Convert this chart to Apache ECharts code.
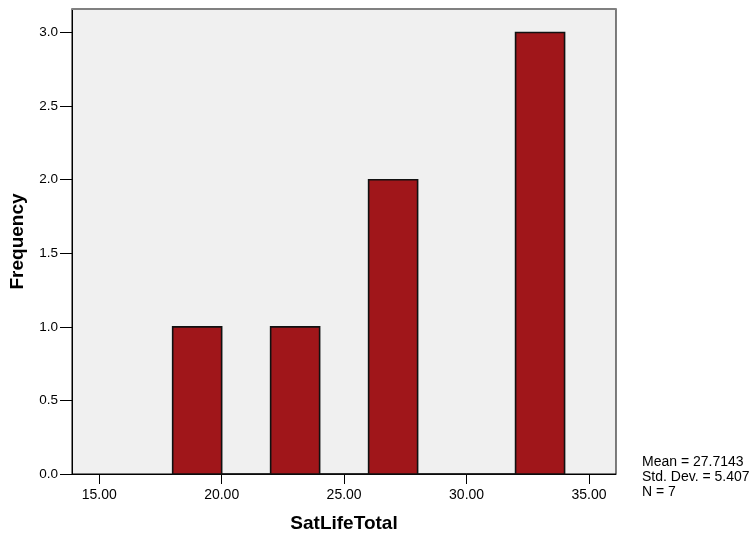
<!DOCTYPE html>
<html>
<head>
<meta charset="utf-8">
<script src="https://cdn.jsdelivr.net/npm/echarts@6/dist/echarts.min.js"></script>
<style>
html,body{margin:0;padding:0;background:#fff;}
#c{width:755px;height:539px;}
</style>
</head>
<body>
<div id="c"></div>
<script>
// ---- data ----
var binLower = [18, 20, 22, 24, 26, 28, 30, 32];
var binUpper = [20, 22, 24, 26, 28, 30, 32, 34];
var counts   = [1, 0, 1, 0, 2, 0, 0, 3];
var xTicks = [15, 20, 25, 30, 35];
var yTicks = [0, 0.5, 1.0, 1.5, 2.0, 2.5, 3.0];
var xRange = [13.89, 36.1];
var yRange = [0, 3.16];
var xTitle = 'SatLifeTotal';
var yTitle = 'Frequency';
var statsLines = ['Mean = 27.7143', 'Std. Dev. = 5.407', 'N = 7'];

var histData = binLower.map(function (lo, i) { return [lo, binUpper[i], counts[i]]; });

var FONT = '"Liberation Sans", Arial, sans-serif';
var chart = echarts.init(document.getElementById('c'), null, {renderer: 'canvas'});
chart.setOption({
  animation: false,
  backgroundColor: '#ffffff',
  grid: {
    left: 72, right: 139, top: 9, bottom: 65,
    show: true, backgroundColor: '#f0f0f0', borderColor: '#000', borderWidth: 1
  },
  xAxis: [{
    type: 'value', min: xRange[0], max: xRange[1],
    name: xTitle, nameLocation: 'middle', nameGap: 40,
    nameTextStyle: {fontFamily: FONT, fontSize: 19, fontWeight: 'bold', color: '#000'},
    axisLine: {show: true, onZero: false, lineStyle: {color: '#000', width: 1}},
    axisTick: {show: true, length: 10, customValues: xTicks, lineStyle: {color: '#000', width: 1}},
    axisLabel: {customValues: xTicks, margin: 14, fontFamily: FONT, fontSize: 14, color: '#000',
      formatter: function (v) { return v.toFixed(2); }},
    splitLine: {show: false}
  }, {
    type: 'value', position: 'top', min: xRange[0], max: xRange[1],
    axisLine: {show: true, onZero: false, lineStyle: {color: '#808080', width: 2}},
    axisTick: {show: false}, axisLabel: {show: false}, splitLine: {show: false}
  }],
  yAxis: {
    type: 'value', min: yRange[0], max: yRange[1],
    name: yTitle, nameLocation: 'middle', nameGap: 45, nameRotate: 90,
    nameTextStyle: {fontFamily: FONT, fontSize: 19, fontWeight: 'bold', color: '#000'},
    axisLine: {show: true, onZero: false, lineStyle: {color: '#000', width: 1}},
    axisTick: {show: true, length: 12, customValues: yTicks, lineStyle: {color: '#000', width: 1}},
    axisLabel: {customValues: yTicks, margin: 14, fontFamily: FONT, fontSize: 13.5, color: '#000',
      formatter: function (v) { return v.toFixed(1); }},
    splitLine: {show: false}
  },
  series: [{
    type: 'custom',
    xAxisIndex: 0,
    data: histData,
    renderItem: function (params, api) {
      var p0 = api.coord([api.value(0), api.value(2)]);
      var p1 = api.coord([api.value(1), 0]);
      return {
        type: 'rect',
        shape: {x: p0[0], y: p0[1], width: p1[0] - p0[0], height: p1[1] - p0[1]},
        style: {fill: '#a0161a', stroke: '#111', lineWidth: 1.6}
      };
    },
    encode: {x: [0, 1], y: 2}
  }],
  graphic: [{
    type: 'text', left: 642, top: 455,
    style: {text: statsLines.join('\n'), font: '14px ' + FONT, lineHeight: 15, fill: '#000'}
  }]
});
</script>
</body>
</html>
